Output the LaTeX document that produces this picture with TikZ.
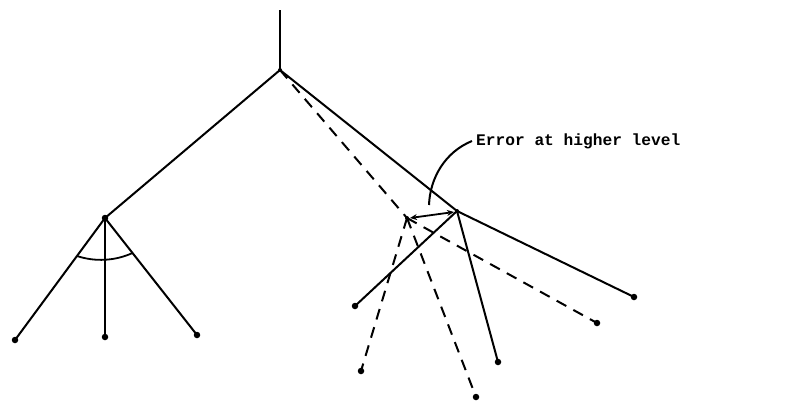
\documentclass[tikz,border=0pt]{standalone}
\usepackage{fontspec}
\newfontfamily\typefont{Liberation Mono}
\usetikzlibrary{arrows.meta}
\tikzset{
  edge/.style={line width=2pt},
  dedge/.style={line width=2pt, dash pattern=on 11pt off 8pt},
  dot/.style={circle, fill=black, inner sep=0pt, minimum size=6.5pt}
}
\begin{document}
\begin{tikzpicture}[x=1pt,y=-1pt]
\useasboundingbox (0,0) rectangle (790,400);
\coordinate (top) at (280,10);
\node[dot, minimum size=4pt] (root) at (280,70) {};
\node[dot] (L) at (105,218) {};
\node[dot] (L1) at (15,340) {};
\node[dot] (L2) at (105,337) {};
\node[dot] (L3) at (197,335) {};
\node[dot, minimum size=4pt] (R) at (457,211) {};
\node[dot] (R1) at (355,306) {};
\node[dot] (R2) at (498,362) {};
\node[dot] (R3) at (634,297) {};
\node[dot, minimum size=4pt] (D) at (407,218) {};
\node[dot] (D1) at (361,371) {};
\node[dot] (D2) at (476,397) {};
\node[dot] (D3) at (597,323) {};
% solid tree
\draw[edge] (top) -- (root.center);
\draw[edge] (root.center) -- (L.center);
\draw[edge] (root.center) -- (R.center);
\draw[edge] (L.center) -- (L1.center);
\draw[edge] (L.center) -- (L2.center);
\draw[edge] (L.center) -- (L3.center);
\draw[edge] (R.center) -- (R1.center);
\draw[edge] (R.center) -- (R2.center);
\draw[edge] (R.center) -- (R3.center);
% arc
\coordinate (arcA) at (77,256);
\coordinate (arcB) at (132.5,253);
\draw[line width=1.8pt] (arcA) .. controls (95,262) and (115,261) .. (arcB);
% dashed tree
\draw[dedge] (root.center) -- (D.center);
\draw[dedge] (D.center) -- (D1.center);
\draw[dedge] (D.center) -- (D2.center);
\draw[dedge] (D.center) -- (D3.center);
% double arrow
\draw[line width=1.8pt, {Stealth[length=7pt,width=6pt]}-{Stealth[length=7pt,width=6pt]}] ([xshift=3pt]D.center) -- ([xshift=-3pt,yshift=-1pt]R.center);
% label
\node[anchor=west, font=\typefont\bfseries\fontsize{16.2}{19}\selectfont, inner sep=0pt] (lab) at (476,141) {Error at higher level};
\coordinate (lend) at (429,205);
\draw[line width=2pt] ([xshift=-4pt]lab.west) .. controls (445,152) and (430,178) .. (lend);
\end{tikzpicture}
\end{document}
